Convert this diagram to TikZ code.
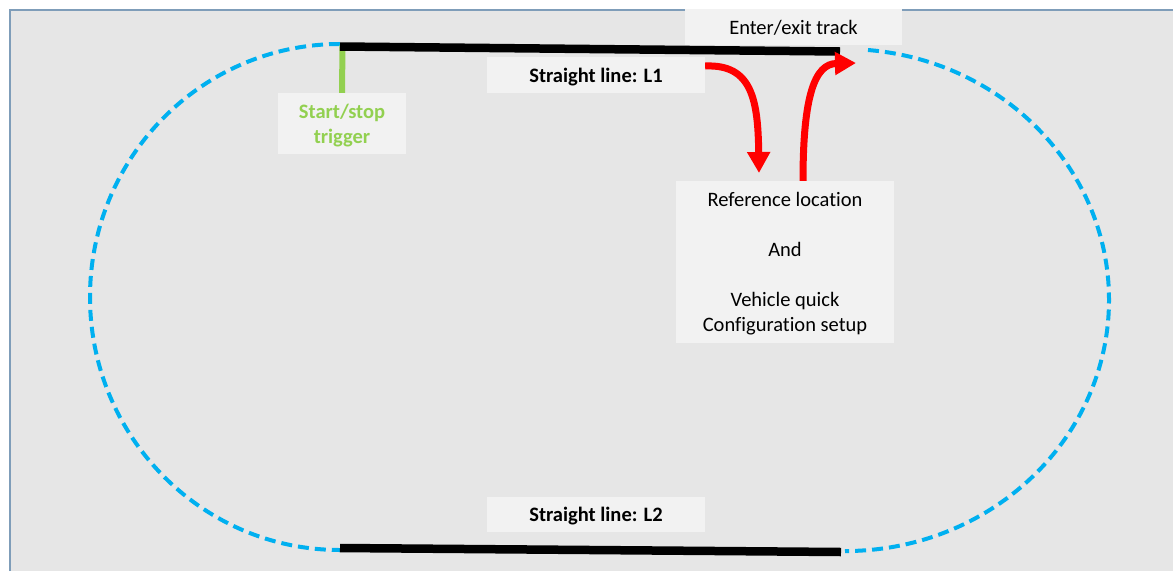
\documentclass[tikz,border=0pt]{standalone}
\usepackage{fontspec}
\setmainfont{Carlito}[Ligatures=NoCommon]
\usetikzlibrary{arrows.meta}

\definecolor{bggray}{HTML}{E6E6E6}
\definecolor{boxgray}{HTML}{F2F2F2}
\definecolor{framecol}{HTML}{7F9DB9}
\definecolor{trackblue}{HTML}{00B0F0}
\definecolor{triggreen}{HTML}{92D050}

\def\labelfont{\fontsize{20.5}{25}\selectfont}

\tikzset{
  labelbox/.style={fill=boxgray, inner sep=0pt, align=center, font=\labelfont, text height=19pt, text depth=5pt},
  boldbox/.style={labelbox, font=\labelfont\bfseries},
  straight/.style={black, line width=8.5pt},
  trackcurve/.style={trackblue, line width=4pt, dash pattern=on 11pt off 6pt},
  redarrow/.style={red, line width=7pt, -{Triangle[length=21pt,width=22pt]}},
}

\begin{document}
\begin{tikzpicture}[x=1pt, y=-1pt]
    % 1. Define Geometric Parameters
    \def\lrx{250} \def\lry{253} % left curve radii
    \def\rrx{264} \def\rry{251} % right curve radii
    \useasboundingbox (0,0) rectangle (1173,571);

    \coordinate (ltop) at (340,44);
    \coordinate (rtop) at (868,50);
    \coordinate (l1a) at (340,46.5);
    \coordinate (l1b) at (840,51.5);
    \coordinate (l2a) at (340,548);
    \coordinate (l2b) at (841,552);
    \coordinate (trigtop) at (342.5,45);
    \coordinate (refin) at (759,173);
    \coordinate (exitpt) at (856,63);

    % 2. Canvas
    \fill[bggray] (10,10) rectangle (1173,571);
    \draw[framecol, line width=1.5pt] (10,571) -- (10,10) -- (1173,10);

    % 3. Label boxes (text sits a little low in its box)
    \node[boldbox, text=triggreen, minimum width=128pt, minimum height=61pt, text height=44pt] (trig) at (342,123.5) {Start/stop\\trigger};
    \node[boldbox, minimum width=218pt, minimum height=36pt] (l1) at (596,75) {Straight line: L1};
    \node[labelbox, minimum width=217pt, minimum height=36pt] (enter) at (793.5,27) {Enter/exit track};
    \node[labelbox, minimum width=218pt, minimum height=162pt, text height=144pt] (ref) at (785,262)
        {Reference location\\[25pt]And\\[25pt]Vehicle quick\\Configuration setup};
    \node[boldbox, minimum width=218pt, minimum height=35pt] (l2) at (596,514.5) {Straight line: L2};

    % 4. Track: curves and straight lines
    \draw[trackcurve] (ltop) arc[start angle=-90, end angle=-270, x radius=\lrx, y radius=\lry];
    \draw[trackcurve] (rtop) arc[start angle=-85, end angle=90, x radius=\rrx, y radius=\rry];
    \draw[triggreen, line width=6pt] (trigtop) -- (trig.north);
    \draw[straight] (l1a) -- (l1b);
    \draw[straight] (l2a) -- (l2b);

    % 5. Enter and exit arrows
    \draw[redarrow] ([yshift=9pt]l1.east) .. controls +(47,-2) and +(-1,-73) .. (refin);
    \draw[redarrow] ([xshift=18pt]ref.north) .. controls (803,95) and (815,64) .. (exitpt);

\end{tikzpicture}
\end{document}
